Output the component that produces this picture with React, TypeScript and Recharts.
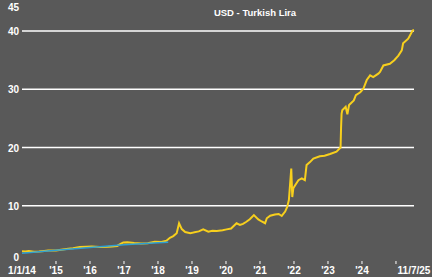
import { LineChart, Line, XAxis, YAxis, ReferenceLine } from 'recharts'

// decimal years
const tryYears = [
  2014.0, 2014.1, 2014.2, 2014.35, 2014.5, 2014.65, 2014.77, 2015.0, 2015.15, 2015.36,
  2015.5, 2015.7, 2015.9, 2016.05, 2016.3, 2016.54, 2016.65, 2016.8, 2016.9, 2016.98,
  2017.1, 2017.3, 2017.5, 2017.7, 2017.9, 2018.1, 2018.25, 2018.35, 2018.45, 2018.55,
  2018.62, 2018.7, 2018.8, 2018.95, 2019.04, 2019.2, 2019.33, 2019.48, 2019.6, 2019.73,
  2019.9, 2020.02, 2020.15, 2020.31, 2020.41, 2020.5, 2020.6, 2020.7, 2020.82, 2020.95,
  2021.05, 2021.15, 2021.2, 2021.3, 2021.44, 2021.55, 2021.64, 2021.74, 2021.8, 2021.85,
  2021.88, 2021.92, 2021.95, 2021.98, 2022.03, 2022.13, 2022.23, 2022.32, 2022.37, 2022.47,
  2022.57, 2022.76, 2022.9, 2023.06, 2023.25, 2023.37, 2023.385, 2023.4, 2023.42, 2023.52,
  2023.57, 2023.62, 2023.76, 2023.82, 2023.95, 2024.04, 2024.14, 2024.24, 2024.33, 2024.48,
  2024.53, 2024.63, 2024.82, 2024.95, 2025.07, 2025.17, 2025.21, 2025.36, 2025.49, 2025.53,
]
const tryValues = [
  2.2, 2.15, 2.25, 2.1, 2.15, 2.25, 2.3, 2.33, 2.45, 2.6,
  2.7, 2.9, 2.95, 3.0, 2.9, 2.95, 3.0, 3.1, 3.45, 3.7,
  3.75, 3.6, 3.52, 3.55, 3.8, 3.78, 4.0, 4.5, 4.8, 5.3,
  7.0, 6.0, 5.5, 5.3, 5.4, 5.6, 5.95, 5.55, 5.7, 5.65,
  5.8, 5.95, 6.1, 7.0, 6.7, 6.9, 7.25, 7.7, 8.4, 7.65,
  7.3, 7.0, 7.85, 8.3, 8.5, 8.6, 8.25, 9.0, 9.8, 11.0,
  13.3, 16.4, 11.5, 13.0, 13.5, 14.4, 14.7, 14.4, 17.0, 17.5,
  18.1, 18.5, 18.6, 18.9, 19.3, 20.0, 23.5, 25.8, 26.4, 27.0,
  25.7, 27.3, 28.1, 29.0, 29.5, 30.1, 31.6, 32.4, 32.1, 32.7,
  33.0, 34.1, 34.4, 35.0, 35.8, 36.7, 37.9, 38.7, 40.1, 40.2,
]

const trendYears = [2014.0, 2015.0, 2016.0, 2017.0, 2018.0, 2018.3]
const trendValues = [1.85, 2.35, 2.85, 3.3, 3.65, 3.75]

const xTicks = [2014, 2015, 2016, 2017, 2018, 2019, 2020, 2021, 2022, 2023, 2024, 2025, 2025.53]
const xLabels = ['1/1/14', "'15", "'16", "'17", "'18", "'19", "'20", "'21", "'22", "'23", "'24", '', '11/7/25']
const yTicks = [0, 10, 20, 30, 40, 45]
const gridValues = [10, 20, 30, 40]

const tryData = tryYears.map((t, i) => ({ t, v: tryValues[i] }))
const trendData = trendYears.map((t, i) => ({ t, v: trendValues[i] }))

const FONT = '"Liberation Sans", Arial, sans-serif'

function XTick({ x, y, payload }: any) {
  const i = xTicks.indexOf(payload.value)
  const label = xLabels[i]
  return (
    <g>
      {i > 0 && label !== '11/7/25' && (
        <line x1={x} x2={x} y1={y - 3} y2={y} stroke="#fff" strokeWidth={1} />
      )}
      <text x={x} y={y + 10} textAnchor="middle" fill="#fff" fontSize={10} fontWeight="bold" fontFamily={FONT}>
        {label}
      </text>
    </g>
  )
}

function YTick({ x, y, payload }: any) {
  let dy = 4
  if (payload.value === 0) dy = -3
  if (payload.value === 45) dy = 9
  return (
    <text x={x} y={y + dy} textAnchor="end" fill="#fff" fontSize={10} fontWeight="bold" fontFamily={FONT}>
      {payload.value}
    </text>
  )
}

export default function App() {
  return (
    <div style={{ position: 'absolute', left: 0, top: 0, width: 443, height: 280, background: '#fff' }}>
      <div style={{ position: 'absolute', left: 0, top: 0, width: 432, height: 277, background: '#595959' }}>
        <div
          style={{
            position: 'absolute',
            left: 255,
            top: 7,
            transform: 'translateX(-50%)',
            color: '#fff',
            fontFamily: FONT,
            fontWeight: 'bold',
            fontSize: 9.5,
            lineHeight: '12px',
            whiteSpace: 'nowrap',
          }}
        >
          USD - Turkish Lira
        </div>
        <LineChart width={432} height={277} margin={{ top: 2, right: 18, bottom: 0, left: 0 }}>
          <XAxis
            dataKey="t"
            type="number"
            domain={[2014, 2025.53]}
            ticks={xTicks}
            interval={0}
            axisLine={false}
            tickLine={false}
            tickSize={0}
            tickMargin={0}
            height={13}
            tick={<XTick />}
          />
          <YAxis
            type="number"
            domain={[0, 45]}
            ticks={yTicks}
            interval={0}
            axisLine={false}
            tickLine={false}
            tickSize={0}
            tickMargin={3}
            width={22}
            tick={<YTick />}
          />
          {gridValues.map((g) => (
            <ReferenceLine key={g} y={g} stroke="#fff" strokeWidth={1.5} />
          ))}
          <Line
            data={tryData}
            dataKey="v"
            stroke="#f7cf1d"
            strokeWidth={2}
            dot={false}
            isAnimationActive={false}
          />
          <Line
            data={trendData}
            dataKey="v"
            stroke="#2d9fd3"
            strokeWidth={1.5}
            dot={false}
            isAnimationActive={false}
          />
        </LineChart>
      </div>
    </div>
  )
}
